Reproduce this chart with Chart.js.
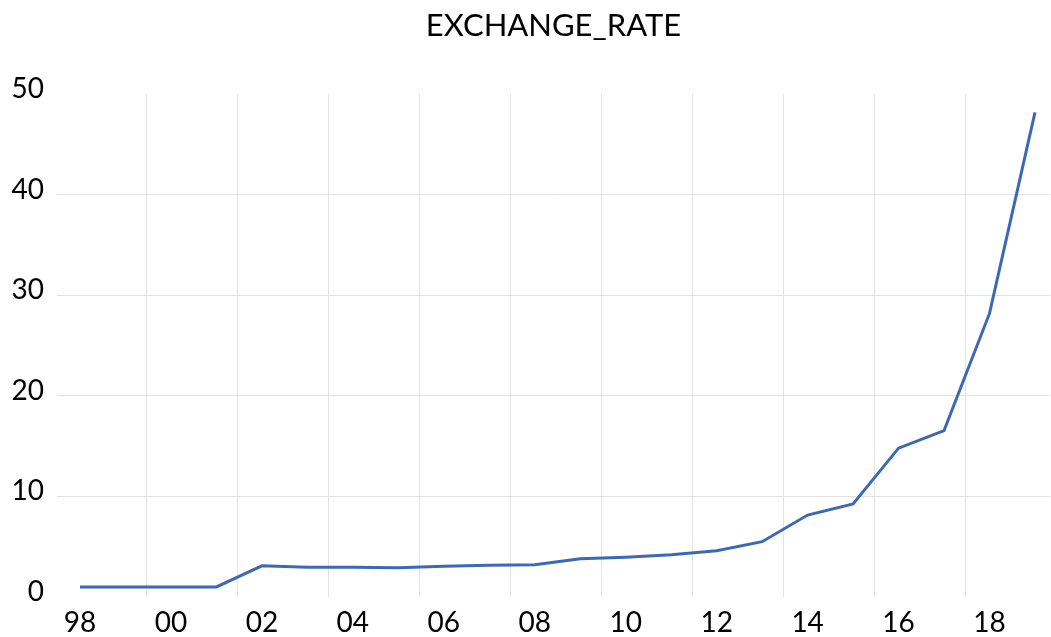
<!DOCTYPE html>
<html>
<head>
<meta charset="utf-8">
<script src="https://cdn.jsdelivr.net/npm/chart.js@4.4.1/dist/chart.umd.min.js"></script>
<style>
  body { margin: 0; background: #fff; }
</style>
</head>
<body>
<canvas id="rate-chart" width="1051" height="637"></canvas>
<script>
// EXCHANGE RATE CHART
var years = [1998, 1999, 2000, 2001, 2002, 2003, 2004, 2005, 2006, 2007, 2008,
             2009, 2010, 2011, 2012, 2013, 2014, 2015, 2016, 2017, 2018, 2019];
var rates = [1.0, 1.0, 1.0, 1.0, 3.1, 2.95, 2.95, 2.9, 3.05, 3.15, 3.2,
             3.8, 3.95, 4.2, 4.6, 5.5, 8.15, 9.25, 14.8, 16.55, 28.2, 48.2];
var labelYears = [1998, 2000, 2002, 2004, 2006, 2008, 2010, 2012, 2014, 2016, 2018];
var gridYears = [1999.47, 2001.47, 2003.47, 2005.47, 2007.47, 2009.47,
                 2011.47, 2013.47, 2015.47, 2017.47];
var yTicks = [0, 10, 20, 30, 40, 50];

var font = "Lato";
var gridColor = "#E3E3E3";

var data = {
  datasets: [
    {
      label: "EXCHANGE_RATE",
      data: years.map((y, i) => ({ x: y, y: rates[i] })),
      borderColor: "#3C69B5",
      borderWidth: 3,
      pointRadius: 0,
      tension: 0,
      fill: false,
    },
  ],
};

var ctx = document.getElementById("rate-chart").getContext("2d");
var myRateChart = new Chart(ctx, {
  type: "line",
  data: data,
  options: {
    responsive: false,
    animation: false,
    layout: { padding: { left: 0, right: 1, top: 0, bottom: 0 } },
    plugins: {
      legend: { display: false },
      tooltip: { enabled: false },
      title: {
        display: true,
        text: "EXCHANGE_RATE",
        color: "#000",
        fullSize: false,
        font: { family: font, size: 31, weight: "normal" },
        padding: { top: 7, bottom: 50 },
      },
    },
    scales: {
      x: {
        type: "linear",
        min: 1997.494,
        max: 2019.33,
        afterBuildTicks: (scale) => {
          scale.ticks = labelYears.concat(gridYears)
            .sort((a, b) => a - b)
            .map((v) => ({ value: v }));
        },
        afterFit: (scale) => { scale.height = 40; },
        ticks: {
          autoSkip: false,
          maxRotation: 0,
          padding: 9,
          color: "#000",
          font: { family: font, size: 28 },
          callback: (value) => labelYears.includes(value) ? String(value).slice(2) : "",
        },
        grid: {
          drawTicks: false,
          color: (c) => (c.tick && gridYears.includes(c.tick.value)) ? gridColor : "transparent",
        },
        border: { display: false },
      },
      y: {
        min: 0,
        max: 50,
        afterBuildTicks: (scale) => {
          scale.ticks = yTicks.map((v) => ({ value: v }));
        },
        afterFit: (scale) => { scale.width = 57; },
        ticks: {
          padding: 13,
          labelOffset: -5,
          color: "#000",
          font: { family: font, size: 28 },
        },
        grid: {
          drawTicks: false,
          color: (c) => (c.tick && c.tick.value > 0 && c.tick.value < 50) ? gridColor : "transparent",
        },
        border: { display: false },
      },
    },
  },
});
</script>
</body>
</html>
